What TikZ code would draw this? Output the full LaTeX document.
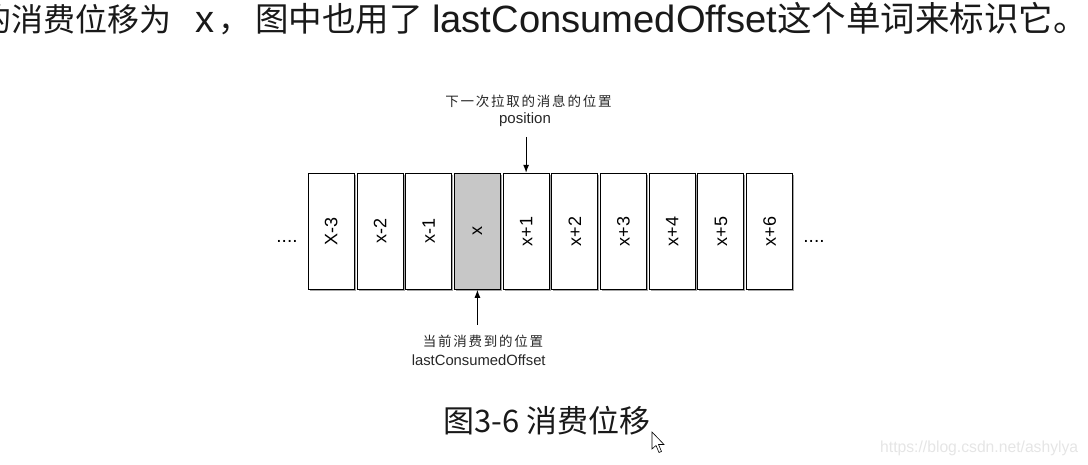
\documentclass[tikz,border=0pt]{standalone}
\usepackage{fontspec}
\setmainfont{Liberation Sans}
\newfontfamily\cjk{Noto Sans CJK SC}
\newfontfamily\cjksp[LetterSpace=13]{Noto Sans CJK SC}
\usetikzlibrary{arrows.meta,shadows}
\tikzset{
  cell/.style={draw=black, line width=1pt, fill=white, minimum width=46pt, minimum height=116pt,
    inner sep=0pt, drop shadow={shadow xshift=1.5pt, shadow yshift=-1.5pt, opacity=0.35, fill=black}},
  cur/.style={cell, fill=black!22},
  lab/.style={rotate=90, font=\fontsize{18}{18}\selectfont, inner sep=0pt},
  dots/.style={font=\fontsize{19}{19}\selectfont, inner sep=0pt, anchor=base},
  ptr/.style={line width=1pt, -{Latex[length=8pt,width=6pt]}},
  note/.style={inner sep=0pt, anchor=base, text=black!85},
  top/.style={inner sep=0pt, anchor=base west, text=black!90},
}
\begin{document}
\begin{tikzpicture}[x=1pt,y=-1pt]
\useasboundingbox (0,0) rectangle (1088,465);
% top line of prose (its first character is cut by the left edge, as in the reference)
\node[top, font=\cjk\fontsize{32}{32}\selectfont] (t1) at (-21,32) {的消费位移为};
\node[top, font=\fontsize{38}{38}\selectfont] (t2) at (195,33) {x};
\node[top, font=\cjk\fontsize{32}{32}\selectfont] (t3) at (218,32) {，};
\node[top, font=\cjk\fontsize{33.5}{33.5}\selectfont] (t4) at (255,32) {图中也用了};
\node[top, font=\fontsize{38}{38}\selectfont] (t5) at (432,33) {\resizebox{345pt}{\height}{lastConsumedOffset}};
\node[top, font=\cjk\fontsize{34.5}{34.5}\selectfont] (t6) at (777,32) {这个单词来标识它。};
% cells
\node[cell] (c1) at (331.3,231.3) {};
\node[cell] (c2) at (380.0,231.3) {};
\node[cell] (c3) at (428.7,231.3) {};
\node[cur]  (c4) at (477.4,231.3) {};
\node[cell] (c5) at (526.1,231.3) {};
\node[cell] (c6) at (574.8,231.3) {};
\node[cell] (c7) at (623.5,231.3) {};
\node[cell] (c8) at (672.2,231.3) {};
\node[cell] (c9) at (720.9,231.3) {};
\node[cell] (c10) at (769.6,231.3) {};
\node[lab] at (c1) {X-3};
\node[lab] at (c2) {x-2};
\node[lab] at (c3) {x-1};
\node[lab] at (c4) {x};
\node[lab] at (c5) {x+1};
\node[lab] at (c6) {x+2};
\node[lab] at (c7) {x+3};
\node[lab] at (c8) {x+4};
\node[lab] at (c9) {x+5};
\node[lab] at (c10) {x+6};
\node[dots] (dl) at (287,243) {....};
\node[dots] (dr) at (814,243) {....};
% pointers
\node[note, font=\cjksp\fontsize{13.5}{13.5}\selectfont] (pos1) at (528.5,106.8) {下一次拉取的消息的位置};
\node[note, font=\fontsize{15}{15}\selectfont] (pos2) at (525,124) {position};
\coordinate (ptop) at (526.1,137);
\draw[ptr] (ptop) -- (c5.north);
\node[note, font=\cjksp\fontsize{13.5}{13.5}\selectfont] (lc1) at (483,346.8) {当前消费到的位置};
\node[note, font=\fontsize{14.8}{14.8}\selectfont] (lc2) at (478.7,365.3) {lastConsumedOffset};
\coordinate (pbot) at (477.4,325);
\draw[ptr] (pbot) -- (c4.south);
% caption
\node[top, font=\cjk\fontsize{31}{31}\selectfont] (cap) at (443,432.5) {图3-6 消费位移};
% watermark
\node[inner sep=0pt, anchor=base west, text=black!10, font=\fontsize{16}{16}\selectfont] (wm) at (880,452.5) {\resizebox{198pt}{\height}{https://blog.csdn.net/ashylya}};
% mouse cursor
\draw[fill=white, draw=black, line width=0.6pt, line join=miter]
  (652,432) -- (652,449) -- (656,445.5) -- (659,452.5) -- (661.5,451.5) -- (658.5,444.5) -- (664,444.5) -- cycle;
\end{tikzpicture}
\end{document}
